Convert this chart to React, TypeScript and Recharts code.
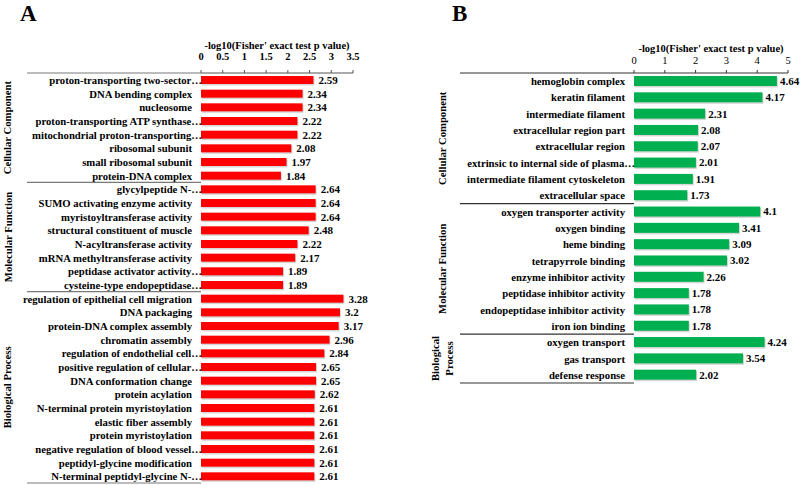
import { BarChart, Bar, XAxis, YAxis, LabelList } from "recharts";

// Panel A
const termsA = [
  "proton-transporting two-sector…",
  "DNA bending complex",
  "nucleosome",
  "proton-transporting ATP synthase…",
  "mitochondrial proton-transporting…",
  "ribosomal subunit",
  "small ribosomal subunit",
  "protein-DNA complex",
  "glycylpeptide N-…",
  "SUMO activating enzyme activity",
  "myristoyltransferase activity",
  "structural constituent of muscle",
  "N-acyltransferase activity",
  "mRNA methyltransferase activity",
  "peptidase activator activity…",
  "cysteine-type endopeptidase…",
  "regulation of epithelial cell migration",
  "DNA packaging",
  "protein-DNA complex assembly",
  "chromatin assembly",
  "regulation of endothelial cell…",
  "positive regulation of cellular…",
  "DNA conformation change",
  "protein acylation",
  "N-terminal protein myristoylation",
  "elastic fiber assembly",
  "protein myristoylation",
  "negative regulation of blood vessel…",
  "peptidyl-glycine modification",
  "N-terminal peptidyl-glycine N-…",
];
const valuesA = [
  2.59, 2.34, 2.34, 2.22, 2.22, 2.08, 1.97, 1.84,
  2.64, 2.64, 2.64, 2.48, 2.22, 2.17, 1.89, 1.89,
  3.28, 3.2, 3.17, 2.96, 2.84, 2.65, 2.65, 2.62, 2.61, 2.61, 2.61, 2.61, 2.61, 2.61,
];
const groupNamesA = ["Cellular Component", "Molecular Function", "Biological Process"];
const groupSizesA = [8, 8, 14];
const ticksA = [0, 0.5, 1, 1.5, 2, 2.5, 3, 3.5];

// Panel B
const termsB = [
  "hemoglobin complex",
  "keratin filament",
  "intermediate filament",
  "extracellular region part",
  "extracellular region",
  "extrinsic to internal side of plasma…",
  "intermediate filament cytoskeleton",
  "extracellular space",
  "oxygen transporter activity",
  "oxygen binding",
  "heme binding",
  "tetrapyrrole binding",
  "enzyme inhibitor activity",
  "peptidase inhibitor activity",
  "endopeptidase inhibitor activity",
  "iron ion binding",
  "oxygen transport",
  "gas transport",
  "defense response",
];
const valuesB = [
  4.64, 4.17, 2.31, 2.08, 2.07, 2.01, 1.91, 1.73,
  4.1, 3.41, 3.09, 3.02, 2.26, 1.78, 1.78, 1.78,
  4.24, 3.54, 2.02,
];
const groupNamesB = ["Cellular Component", "Molecular Function", "Biological\nProcess"];
const groupSizesB = [8, 8, 3];
const ticksB = [0, 1, 2, 3, 4, 5];

const FONT = "'Liberation Serif', 'Times New Roman', serif";

function buildRows(terms: string[], values: number[], sizes: number[]) {
  const rows: any[] = [];
  let start = 0;
  sizes.forEach((size, g) => {
    for (let i = 0; i < size; i++) {
      const idx = start + i;
      rows.push({
        term: terms[idx],
        v: values[idx],
        group: g,
        first: i === 0,
        last: i === size - 1,
        size,
      });
    }
    start += size;
  });
  return rows;
}

const rowsA = buildRows(termsA, valuesA, groupSizesA);
const rowsB = buildRows(termsB, valuesB, groupSizesB);

function makeTick(rows: any[], groupNames: string[], step: number, lineX: number, groupX: number, lineColor: string) {
  return (props: any) => {
    const { x, y, payload, index } = props;
    const row = rows[index] ?? rows.find((r) => r.term === payload.value);
    if (!row) return null;
    const truncated = row.term.endsWith("…");
    const parts: any[] = [];
    parts.push(
      <text
        key="t"
        x={truncated ? x + 1 : x - 9}
        y={y}
        textAnchor="end"
        dominantBaseline="central"
        fontFamily={FONT}
        fontWeight="bold"
        fontSize={10.7}
        fill="#000"
      >
        {row.term}
      </text>
    );
    if (index === 0) {
      parts.push(<line key="top" x1={lineX} x2={x} y1={y - step / 2} y2={y - step / 2} stroke={lineColor} strokeWidth={1.2} />);
    }
    if (row.last) {
      parts.push(<line key="sep" x1={lineX} x2={x} y1={y + step / 2} y2={y + step / 2} stroke={lineColor} strokeWidth={1.2} />);
    }
    if (row.first) {
      const cy = y + ((row.size - 1) / 2) * step;
      const lines = groupNames[row.group].split("\n");
      const lh = 14;
      parts.push(
        <text
          key="g"
          x={groupX}
          y={cy}
          transform={`rotate(-90, ${groupX}, ${cy})`}
          textAnchor="middle"
          fontFamily={FONT}
          fontWeight="bold"
          fontSize={10.7}
          fill="#000"
        >
          {lines.map((l: string, i: number) => (
            <tspan key={i} x={groupX} dy={i === 0 ? 3.5 - ((lines.length - 1) * lh) / 2 : lh}>
              {l}
            </tspan>
          ))}
        </text>
      );
    }
    return <g>{parts}</g>;
  };
}

function shadowBar(fill: string) {
  return (props: any) => {
    const { x, y, width, height } = props;
    if (width == null || width <= 0) return <g />;
    return (
      <g>
        <rect x={x + 1} y={y + 1.5} width={width} height={height} fill="#d6d6d6" />
        <rect x={x} y={y} width={width} height={height} fill={fill} />
      </g>
    );
  };
}

const valueLabelStyle = { fontFamily: FONT, fontWeight: "bold", fontSize: 11, fill: "#000" };

export default function App() {
  const heightA = 485;
  const marginA = { top: 43, right: 47, bottom: 2, left: 0 };
  const stepA = (heightA - marginA.top - 30 - marginA.bottom) / rowsA.length;

  const heightB = 485;
  const marginB = { top: 43, right: 12, bottom: 102, left: 0 };
  const stepB = (heightB - marginB.top - 30 - marginB.bottom) / rowsB.length;

  return (
    <div style={{ position: "absolute", left: 0, top: 0, width: 800, height: 485, background: "#fff", fontFamily: FONT }}>
      <div style={{ position: "absolute", left: 20, top: 2, fontSize: 23, lineHeight: "23px", fontWeight: "bold" }}>A</div>
      <div style={{ position: "absolute", left: 452, top: 2, fontSize: 23, lineHeight: "23px", fontWeight: "bold" }}>B</div>

      <div style={{ position: "absolute", left: 0, top: 0 }}>
        <BarChart width={400} height={heightA} data={rowsA} layout="vertical" margin={marginA} barSize={8}>
          <XAxis
            type="number"
            orientation="top"
            domain={[0, 3.5]}
            ticks={ticksA}
            height={30}
            tickSize={3}
            tickMargin={10}
            stroke="#555"
            tick={{ fontFamily: FONT, fontWeight: "bold", fontSize: 10.5, fill: "#000" }}
            label={{
              value: "-log10(Fisher' exact test p value)",
              position: "insideTop",
              offset: -1.5,
              style: { fontFamily: FONT, fontWeight: "bold", fontSize: 10.5, fill: "#000" },
            }}
          />
          <YAxis
            type="category"
            dataKey="term"
            width={201}
            axisLine={false}
            tickLine={false}
            tickSize={0}
            tickMargin={0}
            interval={0}
            tick={makeTick(rowsA, groupNamesA, stepA, 27, 8, "#7a7a7a")}
          />
          <Bar dataKey="v" fill="#ff0000" isAnimationActive={false} shape={shadowBar("#ff0000")}>
            <LabelList dataKey="v" position="right" offset={5} style={valueLabelStyle} />
          </Bar>
        </BarChart>
      </div>

      <div style={{ position: "absolute", left: 400, top: 0 }}>
        <BarChart width={400} height={heightB} data={rowsB} layout="vertical" margin={marginB} barSize={10}>
          <XAxis
            type="number"
            orientation="top"
            domain={[0, 5]}
            ticks={ticksB}
            height={30}
            tickSize={3}
            tickMargin={6}
            stroke="#333"
            tick={{ fontFamily: FONT, fontSize: 10.5, fill: "#000" }}
            label={{
              value: "-log10(Fisher' exact test p value)",
              position: "insideTop",
              offset: 1.5,
              style: { fontFamily: FONT, fontWeight: "bold", fontSize: 10.5, fill: "#000" },
            }}
          />
          <YAxis
            type="category"
            dataKey="term"
            width={234}
            axisLine={false}
            tickLine={false}
            tickSize={0}
            tickMargin={0}
            interval={0}
            tick={makeTick(rowsB, groupNamesB, stepB, 60, 43, "#333")}
          />
          <Bar dataKey="v" fill="#00b050" isAnimationActive={false} shape={shadowBar("#00b050")}>
            <LabelList dataKey="v" position="right" offset={3} style={valueLabelStyle} />
          </Bar>
        </BarChart>
      </div>
    </div>
  );
}
